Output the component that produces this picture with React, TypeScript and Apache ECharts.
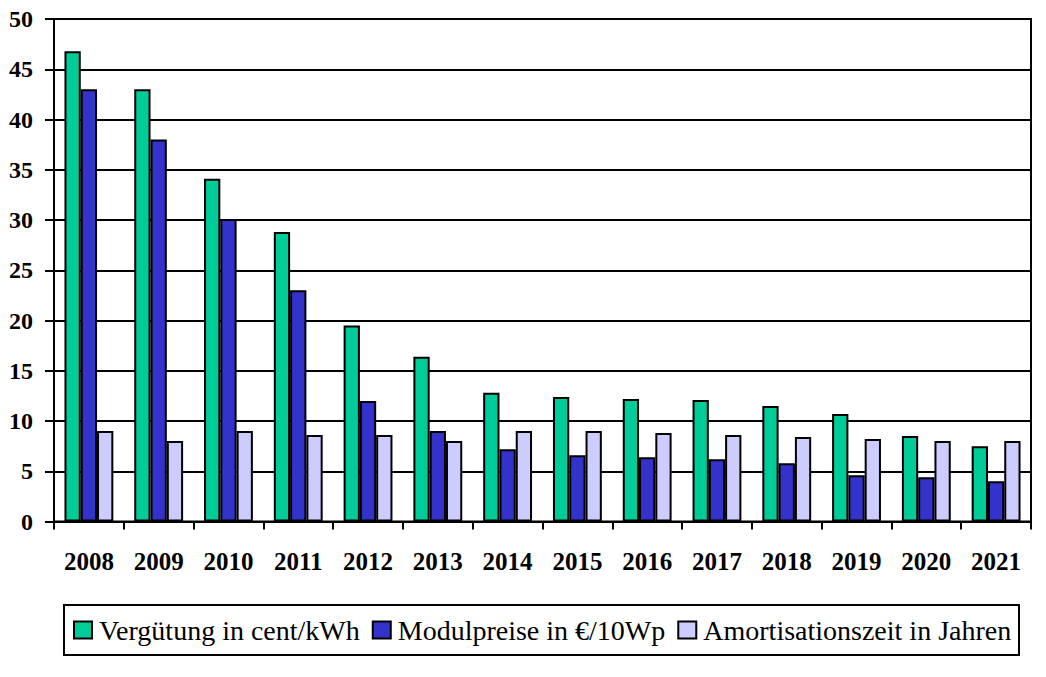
import React, { useEffect, useRef } from "react";
import * as echarts from "echarts";

const years = ["2008", "2009", "2010", "2011", "2012", "2013", "2014", "2015", "2016", "2017", "2018", "2019", "2020", "2021"];
const verguetung = [46.8, 43, 34.1, 28.8, 19.5, 16.4, 12.8, 12.4, 12.2, 12.1, 11.5, 10.7, 8.5, 7.5];
const modulpreise = [43, 38, 30.1, 23, 12, 9, 7.2, 6.6, 6.4, 6.2, 5.8, 4.6, 4.4, 4.0];
const amortisation = [9, 8, 9, 8.6, 8.6, 8, 9, 9, 8.8, 8.6, 8.4, 8.2, 8, 8];
const seriesNames = ["Vergütung in cent/kWh", "Modulpreise in €/10Wp", "Amortisationszeit in Jahren"];
const colors = ["#00CC99", "#3333CC", "#CCCCFF"];

const serif = "'Liberation Serif', 'Times New Roman', serif";

export default function App() {
  const ref = useRef<HTMLDivElement>(null);
  useEffect(() => {
    if (!ref.current) return;
    const chart = echarts.init(ref.current, undefined, { renderer: "svg" });
    const data = [verguetung, modulpreise, amortisation];
    chart.setOption({
      animation: false,
      backgroundColor: "#fff",
      grid: {
        left: 54,
        right: 15,
        top: 19,
        bottom: 155.5,
        show: true,
        borderColor: "#000",
        borderWidth: 2,
      },
      graphic: [
        {
          type: "rect",
          shape: { x: 64, y: 605, width: 955, height: 50 },
          style: { fill: "none", stroke: "#000", lineWidth: 2 },
          silent: true,
        },
      ],
      legend: {
        left: 73,
        top: 615,
        padding: 0,
        itemWidth: 18,
        itemHeight: 17,
        itemGap: 12,
        icon: "rect",
        data: seriesNames,
        textStyle: {
          fontFamily: serif,
          fontSize: 28,
          color: "#000",
          lineHeight: 30,
          padding: [0, 0, 0, 2],
        },
      },
      xAxis: {
        type: "category",
        data: years,
        axisLine: { show: true, lineStyle: { color: "#000", width: 2 } },
        axisTick: { show: true, length: 8, lineStyle: { color: "#000", width: 2 } },
        axisLabel: {
          margin: 27,
          fontFamily: serif,
          fontWeight: "bold",
          fontSize: 25,
          color: "#000",
        },
      },
      yAxis: {
        type: "value",
        min: 0,
        max: 50,
        interval: 5,
        axisLine: { show: true, lineStyle: { color: "#000", width: 2 } },
        axisTick: { show: true, length: 9, lineStyle: { color: "#000", width: 2 } },
        axisLabel: {
          margin: 21,
          fontFamily: serif,
          fontWeight: "bold",
          fontSize: 24,
          color: "#000",
        },
        splitLine: { show: true, lineStyle: { color: "#000", width: 1.8 } },
      },
      series: seriesNames.map((name, i) => ({
        name,
        type: "bar",
        data: data[i],
        barGap: "0%",
        barCategoryGap: "30%",
        itemStyle: { color: colors[i], borderColor: "#000", borderWidth: 2 },
      })),
    });
    return () => chart.dispose();
  }, []);
  return (
    <div
      ref={ref}
      style={{ position: "absolute", left: 0, top: 0, width: 1046, height: 677 }}
    />
  );
}
